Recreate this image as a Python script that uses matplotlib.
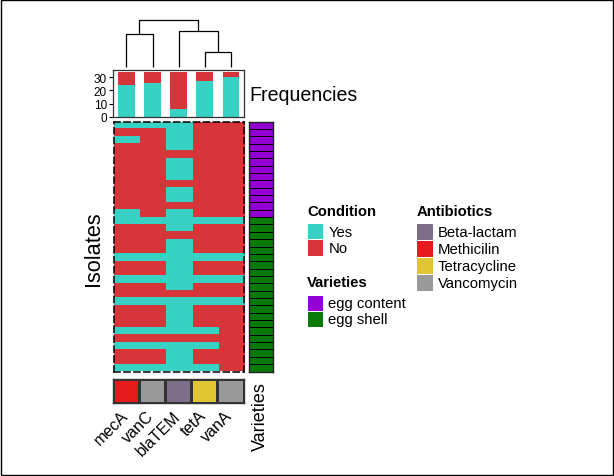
import numpy as np
import matplotlib.pyplot as plt
from matplotlib.colors import ListedColormap
from matplotlib.patches import Rectangle

plt.rcParams['font.family'] = ['Liberation Sans', 'DejaVu Sans']

W, H = 614, 477

# genes (columns) and their antibiotic class
genes = ['mecA', 'vanC', 'blaTEM', 'tetA', 'vanA']
gene_class = ['Methicilin', 'Vancomycin', 'Beta-lactam', 'Tetracycline', 'Vancomycin']
class_names = ['Beta-lactam', 'Methicilin', 'Tetracycline', 'Vancomycin']
class_colors = ['#7E6E8A', '#E41A1C', '#E0C432', '#999999']

# presence per isolate, top to bottom (1 = Yes, 0 = No)
isolates = [
    "11100", "00100", "10100", "00100", "00000", "00100", "00100", "00100",
    "00000", "00100", "00100", "00000", "10100", "11111", "00100", "00000",
    "00100", "00100", "11111", "00100", "00100", "11111", "00100", "00000",
    "11111", "00100", "00100", "00100", "11110", "00000", "11110", "00100",
    "00100", "11110",
]
varieties = ['egg content'] * 13 + ['egg shell'] * 21
variety_names = ['egg content', 'egg shell']
variety_colors = ['#9400D3', '#077A07']

# stacked frequencies drawn above the heatmap
bar_teal = [24, 26, 6, 27, 30]
bar_red = [10, 8, 28, 7, 4]

# dendrogram merges: (left, right, height); ints point to earlier merges
merges = [('mecA', 'vanC', 32.3), ('tetA', 'vanA', 14.7),
          ('blaTEM', 1, 35.7), (0, 2, 46.3)]

teal = '#38D2C4'
red = '#D63539'

fig = plt.figure(figsize=(W / 100, H / 100), dpi=100)


def px_axes(l, t, r, b):
    return fig.add_axes([l / W, 1 - b / H, (r - l) / W, (b - t) / H])


mat = np.array([[int(c) for c in row] for row in isolates])
ncol = len(genes)

# dendrogram
axd = px_axes(113.3, 21, 244, 68.3)
pos = []
for a, b, h in merges:
    xy = []
    for node in (a, b):
        if isinstance(node, str):
            xy.append((genes.index(node), 0.0))
        else:
            xy.append(pos[node])
    (x1, y1), (x2, y2) = xy
    axd.plot([x1, x1, x2, x2], [y1, h, h, y2], color='black', lw=0.9,
             clip_on=False, solid_capstyle='butt')
    pos.append(((x1 + x2) / 2, h))
axd.set_xlim(-0.5, ncol - 0.5)
axd.set_ylim(0, merges[-1][2])
axd.axis('off')

# frequencies bar chart
axb = px_axes(113.3, 70.7, 244, 117.7)
x = np.arange(ncol)
axb.bar(x, bar_teal, width=0.64, color=teal)
axb.bar(x, bar_red, width=0.64, bottom=bar_teal, color=red)
axb.set_xlim(-0.5, ncol - 0.5)
axb.set_ylim(0, 35.8)
axb.set_yticks([0, 10, 20, 30])
axb.set_xticks([])
axb.tick_params(axis='y', labelsize=8.5, length=3, width=0.8, pad=1.5)
for s in axb.spines.values():
    s.set_linewidth(0.9)
    s.set_color('#333333')

# heatmap
axh = px_axes(113.5, 122.5, 244, 372.5)
axh.imshow(mat, cmap=ListedColormap([red, teal]), vmin=0, vmax=1,
           aspect='auto', interpolation='nearest')
axh.set_xticks([])
axh.set_yticks([])
for s in axh.spines.values():
    s.set_linewidth(1.1)
    s.set_linestyle((0, (4, 2.5)))
    s.set_color('black')

# varieties side bar
axv = px_axes(248.7, 122.5, 272.5, 372.5)
vcode = np.array([[variety_names.index(v)] for v in varieties])
axv.pcolormesh(vcode, cmap=ListedColormap(variety_colors), vmin=0, vmax=1,
               edgecolors='black', linewidth=0.55)
axv.set_ylim(len(varieties), 0)
axv.set_xticks([])
axv.set_yticks([])
for s in axv.spines.values():
    s.set_linewidth(1.0)
    s.set_color('#222222')

# antibiotic class bar
axa = px_axes(113.3, 380, 243.5, 403.5)
ccode = np.array([[class_names.index(c) for c in gene_class]])
axa.pcolormesh(ccode, cmap=ListedColormap(class_colors), vmin=0, vmax=3,
               edgecolors='#333333', linewidth=0.9)
axa.set_xlim(0, ncol)
axa.set_xticks([])
axa.set_yticks([])
for s in axa.spines.values():
    s.set_linewidth(1.0)
    s.set_color('#333333')
for i, g in enumerate(genes):
    axa.text(i + 0.68, -0.22, g, rotation=45, ha='right', va='top',
             fontsize=11.6, transform=axa.transData)

# texts and legends on an overlay in pixel coordinates
ax0 = fig.add_axes([0, 0, 1, 1], zorder=-1)
ax0.set_xlim(0, W)
ax0.set_ylim(H, 0)
ax0.axis('off')
ax0.add_patch(Rectangle((0.5, 0.5), W - 1.5, H - 1.5, fill=False,
                        lw=1.0, edgecolor='black'))

fig.text(93 / W, 1 - 249 / H, 'Isolates', rotation=90, ha='center',
         va='center', fontsize=15.7)
fig.text(249 / W, 1 - 101 / H, 'Frequencies', ha='left', va='baseline',
         fontsize=14.1)
fig.text(260.5 / W, 1 - 382 / H, 'Varieties', rotation=90, ha='center',
         va='top', fontsize=13)


def legend_block(x0, y_title, y_key, key_h, names, colors, title):
    ax0.text(x0, y_title, title, fontsize=10.7, fontweight='bold',
             ha='left', va='baseline')
    for k, (n, c) in enumerate(zip(names, colors)):
        yk = y_key + k * key_h
        ax0.add_patch(Rectangle((x0 + 0.5, yk + 0.5), 15.5, key_h - 1,
                                color=c, lw=0))
        ax0.text(x0 + 21, yk + key_h / 2, n, fontsize=10.7, ha='left',
                 va='center')


legend_block(307.3, 216, 224.3, 16.5, ['Yes', 'No'], [teal, red], 'Condition')
legend_block(307.3, 287, 296, 16.2, variety_names, variety_colors, 'Varieties')
legend_block(416.7, 216, 224.3, 17.0, class_names, class_colors, 'Antibiotics')

fig.savefig('out.png', dpi=100)
